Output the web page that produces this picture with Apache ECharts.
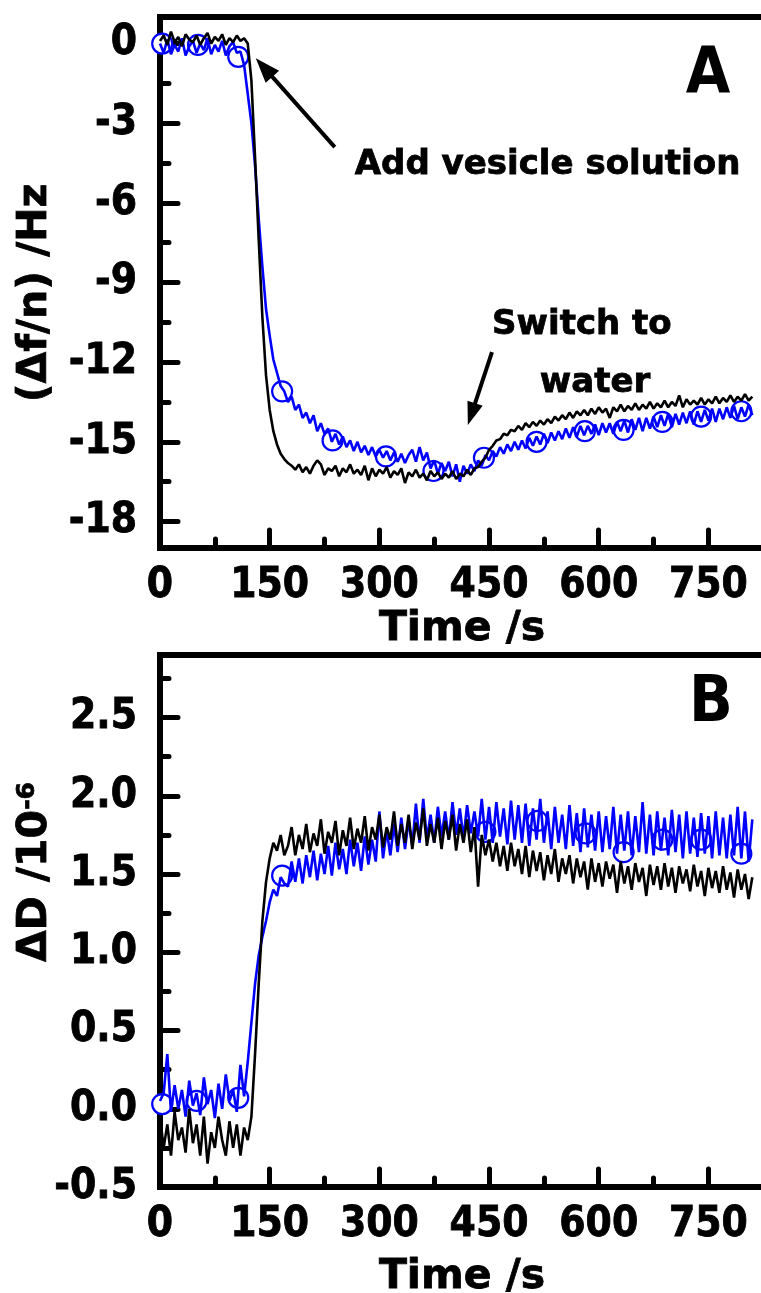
<!DOCTYPE html>
<html>
<head>
<meta charset="utf-8">
<script src="https://cdn.jsdelivr.net/npm/echarts@6/dist/echarts.min.js"></script>
<style>
  html, body { margin: 0; padding: 0; background: #fff; }
  #chart { width: 761px; height: 1293px; }
</style>
</head>
<body>
<div id="chart"></div>
<script>
// Sampling times (s), shared by all four traces
const time = [
  0, 5, 10, 15, 20, 25, 30, 35, 40, 45,
  50, 55, 60, 65, 70, 75, 80, 85, 90, 95,
  100, 105, 110, 115, 120, 125, 130, 135, 140, 145,
  150, 155, 160, 165, 170, 175, 180, 185, 190, 195,
  200, 205, 210, 215, 220, 225, 230, 235, 240, 245,
  250, 255, 260, 265, 270, 275, 280, 285, 290, 295,
  300, 305, 310, 315, 320, 325, 330, 335, 340, 345,
  350, 355, 360, 365, 370, 375, 380, 385, 390, 395,
  400, 405, 410, 415, 420, 425, 430, 435, 440, 445,
  450, 455, 460, 465, 470, 475, 480, 485, 490, 495,
  500, 505, 510, 515, 520, 525, 530, 535, 540, 545,
  550, 555, 560, 565, 570, 575, 580, 585, 590, 595,
  600, 605, 610, 615, 620, 625, 630, 635, 640, 645,
  650, 655, 660, 665, 670, 675, 680, 685, 690, 695,
  700, 705, 710, 715, 720, 725, 730, 735, 740, 745,
  750, 755, 760, 765, 770, 775, 780, 785, 790, 795,
  800, 805, 810
];

// Frequency shift (Δf/n, Hz) – black trace
const dfBlack = [
  0.10, 0.30, -0.05, 0.45, 0.05, 0.25, -0.10, 0.35, 0.15, 0.05,
  0.30, -0.05, 0.20, 0.40, 0.00, 0.25, 0.10, 0.35, -0.05, 0.20,
  0.05, 0.30, 0.10, 0.20, 0.00, -1.4, -4.3, -7.4, -10.3, -12.5,
  -13.8, -14.6, -15.1, -15.45, -15.65, -15.8, -15.9, -16.05, -15.85, -16.15,
  -15.95, -16.2, -15.9, -15.7, -15.85, -16.25, -16.0, -16.1, -15.9, -16.3,
  -16.0, -16.15, -15.85, -16.2, -16.05, -16.25, -15.9, -16.45, -16.0, -16.3,
  -16.05, -16.2, -15.95, -16.35, -16.1, -16.25, -16.0, -16.55, -16.15, -16.3,
  -16.05, -16.35, -16.2, -16.45, -16.1, -16.3, -16.15, -16.4, -16.2, -16.35,
  -16.1, -16.4, -16.2, -16.3, -16.05, -16.25, -16.0, -15.95, -15.75, -15.6,
  -15.3, -15.15, -14.95, -14.9, -14.7, -14.75, -14.55, -14.6, -14.4, -14.55,
  -14.3, -14.45, -14.25, -14.4, -14.2, -14.35, -14.15, -14.3, -14.05, -14.2,
  -14.0, -14.15, -13.9, -14.1, -13.85, -14.0, -13.8, -14.0, -13.75, -13.95,
  -13.7, -13.9, -13.75, -14.1, -13.7, -13.85, -13.6, -13.85, -13.65, -13.8,
  -13.55, -13.8, -13.6, -13.75, -13.5, -13.75, -13.55, -13.7, -13.45, -13.7,
  -13.5, -13.65, -13.25, -13.7, -13.4, -13.6, -13.45, -13.6, -13.35, -13.6,
  -13.4, -13.55, -13.3, -13.55, -13.35, -13.5, -13.25, -13.5, -13.3, -13.45,
  -13.2, -13.45, -13.3
];

// Frequency shift (Δf/n, Hz) – blue trace
const dfBlue = [
  0.0, -0.35, 0.15, -0.4, -0.05, -0.3, 0.2, -0.45, -0.1, 0.1,
  -0.35, 0.0, -0.25, 0.2, -0.4, -0.05, -0.3, 0.1, -0.45, -0.1,
  0.05, -0.35, -0.3, -0.8, -1.9, -3.0, -4.6, -6.6, -8.4, -10.0,
  -11.0, -11.9, -12.4, -12.9, -13.1, -13.5, -13.3, -13.8, -13.6, -14.1,
  -13.9, -14.3, -14.0, -14.6, -14.3, -14.7, -14.5, -15.0, -14.7, -15.1,
  -14.8, -15.2, -14.95, -15.35, -15.0, -15.4, -15.15, -15.5, -15.2, -15.55,
  -15.3, -15.6, -15.35, -15.7, -15.4, -15.75, -15.45, -15.8, -15.5, -15.3,
  -15.75, -15.2, -15.7, -15.4, -16.0, -15.7, -16.2, -15.8, -16.1, -15.75,
  -16.3, -15.85, -16.5, -15.9, -16.2, -15.85, -16.1, -15.7, -15.9, -15.5,
  -15.7, -15.35, -15.55, -15.2, -15.45, -15.1, -15.35, -15.0, -15.3, -14.95,
  -15.25, -14.85, -15.15, -14.8, -15.1, -14.7, -15.05, -14.65, -14.95, -14.6,
  -14.9, -14.5, -14.85, -14.45, -14.8, -14.4, -14.75, -14.4, -14.7, -14.35,
  -14.75, -14.3, -14.65, -14.3, -14.7, -14.25, -14.6, -14.2, -14.65, -14.15,
  -14.55, -14.1, -14.6, -14.1, -14.5, -14.05, -14.45, -14.0, -14.4, -13.95,
  -14.45, -13.95, -14.35, -13.9, -14.3, -13.85, -14.35, -13.85, -14.25, -13.8,
  -14.2, -13.75, -14.25, -13.75, -14.15, -13.7, -14.1, -13.65, -14.15, -13.7,
  -14.05, -13.6, -14.0
];

// Dissipation shift (ΔD, 10^-6) – black trace
const dBlack = [
  -0.05, -0.25, -0.1, -0.3, -0.02, -0.2, -0.12, -0.28, 0.0, -0.22,
  -0.1, -0.3, -0.05, -0.35, -0.15, -0.25, -0.05, -0.2, -0.3, -0.08,
  -0.25, -0.1, -0.3, -0.12, -0.2, -0.05, 0.35, 0.8, 1.2, 1.45,
  1.6, 1.7, 1.65, 1.75, 1.62, 1.68, 1.8, 1.62, 1.75, 1.66,
  1.82, 1.64, 1.76, 1.68, 1.85, 1.63, 1.77, 1.7, 1.84, 1.62,
  1.78, 1.68, 1.86, 1.66, 1.79, 1.7, 1.87, 1.65, 1.8, 1.72,
  1.88, 1.67, 1.8, 1.72, 1.9, 1.68, 1.82, 1.7, 1.88, 1.66,
  1.83, 1.72, 1.92, 1.68, 1.82, 1.7, 1.86, 1.66, 1.84, 1.72,
  1.88, 1.65, 1.82, 1.7, 1.85, 1.64, 1.8, 1.42, 1.75, 1.62,
  1.72, 1.58, 1.7, 1.55, 1.68, 1.52, 1.7, 1.55, 1.66, 1.5,
  1.68, 1.48, 1.65, 1.52, 1.64, 1.46, 1.62, 1.5, 1.66, 1.45,
  1.6, 1.5, 1.62, 1.44, 1.6, 1.48, 1.58, 1.4, 1.6, 1.45,
  1.57, 1.42, 1.58, 1.47, 1.56, 1.38, 1.58, 1.44, 1.55, 1.4,
  1.57, 1.45, 1.54, 1.36, 1.56, 1.43, 1.55, 1.4, 1.57, 1.42,
  1.54, 1.38, 1.55, 1.44, 1.53, 1.39, 1.56, 1.42, 1.52, 1.36,
  1.54, 1.41, 1.52, 1.38, 1.55, 1.4, 1.51, 1.35, 1.53, 1.4,
  1.5, 1.34, 1.48
];

// Dissipation shift (ΔD, 10^-6) – blue trace
const dBlue = [
  0.05, 0.1, 0.35, -0.02, 0.15, 0.0, 0.12, -0.05, 0.18, 0.02,
  0.1, -0.04, 0.2, 0.03, 0.12, -0.06, 0.16, 0.0, 0.22, 0.05,
  0.12, -0.02, 0.28, 0.08, 0.3, 0.55, 0.8, 0.98, 1.1, 1.2,
  1.32, 1.4, 1.36, 1.48, 1.44, 1.42, 1.58, 1.45, 1.6, 1.44,
  1.62, 1.48, 1.65, 1.46, 1.63, 1.5, 1.68, 1.49, 1.7, 1.53,
  1.66, 1.5, 1.72, 1.55, 1.7, 1.52, 1.74, 1.56, 1.72, 1.58,
  1.9, 1.6, 1.78, 1.62, 1.82, 1.64, 1.86, 1.66, 1.84, 1.68,
  1.95, 1.7, 1.98, 1.72, 1.88, 1.7, 1.93, 1.74, 1.9, 1.72,
  1.96, 1.75, 1.92, 1.73, 1.94, 1.76, 1.9, 1.74, 1.98, 1.72,
  1.93, 1.7, 1.96, 1.74, 1.92, 1.69, 1.97, 1.72, 1.94, 1.7,
  1.95, 1.68, 1.92, 1.72, 1.98, 1.7, 1.9, 1.66, 1.93, 1.7,
  1.88, 1.66, 1.94, 1.68, 1.89, 1.64, 1.92, 1.67, 1.88, 1.65,
  1.9, 1.64, 1.87, 1.66, 1.93, 1.63, 1.88, 1.65, 1.9, 1.62,
  1.87, 1.64, 1.96, 1.63, 1.88, 1.62, 1.9, 1.65, 1.86, 1.62,
  1.91, 1.64, 1.88, 1.6, 1.9, 1.63, 1.86, 1.61, 1.89, 1.63,
  1.87, 1.6, 1.9, 1.62, 1.86, 1.6, 1.88, 1.62, 1.93, 1.6,
  1.9, 1.58, 1.85
];

// Open-circle markers on the blue traces
const dfMarkerTime = [3, 52, 107, 167, 236, 309, 374, 443, 515, 581, 634, 687, 740, 795];
const dfMarker = [0.0, -0.05, -0.5, -13.1, -14.95, -15.55, -16.1, -15.6, -15.0, -14.6, -14.55, -14.25, -14.05, -13.85];
const dMarkerTime = [3, 50, 107, 167, 445, 516, 582, 634, 687, 740, 795];
const dMarker = [0.03, 0.05, 0.07, 1.49, 1.77, 1.84, 1.76, 1.64, 1.72, 1.72, 1.63];

// Tick values
const xMajorTicks = [0, 150, 300, 450, 600, 750];
const xMinorTicks = [75, 225, 375, 525, 675, 825];
const dfMajorTicks = [-18, -15, -12, -9, -6, -3, 0];
const dfMinorTicks = [-16.5, -13.5, -10.5, -7.5, -4.5, -1.5];
const dMajorTicks = [-0.5, 0, 0.5, 1, 1.5, 2, 2.5];
const dMinorTicks = [-0.25, 0.25, 0.75, 1.25, 1.75, 2.25, 2.75];

const tickFont = "'DejaVu Sans Condensed', 'DejaVu Sans', sans-serif";
const titleFont = "'DejaVu Sans', sans-serif";
const BLUE = '#0000ff';
const BLACK = '#000000';

const zip = (xs, ys) => xs.map((x, i) => [x, ys[i]]);

const tickLine = { color: BLACK, width: 5, cap: 'round' };
const heavyText = { textBorderColor: BLACK, textBorderWidth: 0.8 };

function xAxesFor(grid, nameGap) {
  return [
    {
      type: 'value', gridIndex: grid, position: 'bottom', min: 0, max: 826,
      axisLine: { show: true, onZero: false, lineStyle: { color: BLACK, width: 6 } },
      axisTick: { show: true, inside: true, length: 18, customValues: xMajorTicks, lineStyle: tickLine },
      axisLabel: Object.assign({ show: true, customValues: xMajorTicks, margin: 17, color: BLACK,
        fontFamily: tickFont, fontWeight: 'bold', fontSize: 42 }, heavyText),
      splitLine: { show: false },
      name: 'Time /s', nameLocation: 'middle', nameGap: nameGap,
      nameTextStyle: Object.assign({ color: BLACK, fontFamily: titleFont, fontWeight: 'bold', fontSize: 41 }, heavyText)
    },
    {
      type: 'value', gridIndex: grid, position: 'bottom', min: 0, max: 826,
      axisLine: { show: false, onZero: false },
      axisTick: { show: true, inside: true, length: 9, customValues: xMinorTicks, lineStyle: tickLine },
      axisLabel: { show: false },
      splitLine: { show: false }
    }
  ];
}

function yAxesFor(grid, min, max, major, minor, fmt) {
  return [
    {
      type: 'value', gridIndex: grid, position: 'left', min: min, max: max,
      axisLine: { show: true, onZero: false, lineStyle: { color: BLACK, width: 6 } },
      axisTick: { show: true, inside: true, length: 18, customValues: major, lineStyle: tickLine },
      axisLabel: Object.assign({ show: true, customValues: major, margin: 23, color: BLACK,
        fontFamily: tickFont, fontWeight: 'bold', fontSize: 42, formatter: fmt }, heavyText),
      splitLine: { show: false }
    },
    {
      type: 'value', gridIndex: grid, position: 'left', min: min, max: max,
      axisLine: { show: false, onZero: false },
      axisTick: { show: true, inside: true, length: 9, customValues: minor, lineStyle: tickLine },
      axisLabel: { show: false },
      splitLine: { show: false }
    }
  ];
}

const gridBase = { left: 160, width: 604, show: true, borderColor: BLACK, borderWidth: 6,
  backgroundColor: 'transparent', containLabel: false, outerBoundsMode: 'none' };

const lineSeries = (name, x, y, data, color) => ({
  name, type: 'line', xAxisIndex: x, yAxisIndex: y, data,
  showSymbol: false, symbol: 'none', sampling: 'none',
  lineStyle: { color, width: 2.6 }, clip: true
});
const markerSeries = (name, x, y, data) => ({
  name, type: 'scatter', xAxisIndex: x, yAxisIndex: y, data,
  symbol: 'circle', symbolSize: 20,
  itemStyle: { color: '#ffffff', borderColor: BLUE, borderWidth: 2.2, opacity: 1 }
});

const chart = echarts.init(document.getElementById('chart'));
chart.setOption({
  animation: false,
  backgroundColor: '#ffffff',
  grid: [
    Object.assign({ top: 17, height: 531 }, gridBase),
    Object.assign({ top: 655, height: 532 }, gridBase)
  ],
  xAxis: [...xAxesFor(0, 60), ...xAxesFor(1, 70)],
  yAxis: [
    ...yAxesFor(0, -19, 1, dfMajorTicks, dfMinorTicks, v => String(v)),
    ...yAxesFor(1, -0.5, 2.9, dMajorTicks, dMinorTicks, v => Number(v).toFixed(1))
  ],
  series: [
    lineSeries('Δf blue', 0, 0, zip(time, dfBlue), BLUE),
    lineSeries('Δf black', 0, 0, zip(time, dfBlack), BLACK),
    markerSeries('Δf markers', 0, 0, zip(dfMarkerTime, dfMarker)),
    lineSeries('ΔD blue', 2, 2, zip(time, dBlue), BLUE),
    markerSeries('ΔD markers', 2, 2, zip(dMarkerTime, dMarker)),
    lineSeries('ΔD black', 2, 2, zip(time, dBlack), BLACK)
  ]
});

// Annotations for panel A, given in data coordinates (time, Δf/n)
const toPx = pt => chart.convertToPixel({ xAxisIndex: 0, yAxisIndex: 0 }, pt);

function arrow(from, to, head, halfW, width) {
  const a = toPx(from), b = toPx(to);
  const dx = b[0] - a[0], dy = b[1] - a[1];
  const len = Math.hypot(dx, dy), ux = dx / len, uy = dy / len;
  const bx = b[0] - ux * head, by = b[1] - uy * head;
  return [
    { type: 'line', shape: { x1: a[0], y1: a[1], x2: bx + ux * 3, y2: by + uy * 3 },
      style: { stroke: BLACK, lineWidth: width }, z: 100 },
    { type: 'polygon', shape: { points: [[b[0], b[1]], [bx - uy * halfW, by + ux * halfW], [bx + uy * halfW, by - ux * halfW]] },
      style: { fill: BLACK }, z: 100 }
  ];
}

const heavyStroke = { stroke: BLACK, lineWidth: 0.8 };

function note(text, at, size) {
  const p = toPx(at);
  return { type: 'text', x: p[0], y: p[1], z: 100,
    style: Object.assign({ text, fill: BLACK, fontFamily: titleFont, fontWeight: 'bold', fontSize: size,
      align: 'center', verticalAlign: 'middle' }, heavyStroke) };
}

chart.setOption({
  graphic: [
    ...arrow([239, -3.9], [131, -0.55], 25, 9, 4),
    ...arrow([454, -11.62], [421, -14.37], 23, 8, 4),
    note('Add vesicle solution', [530, -4.57], 34),
    note('Switch to', [577, -10.6], 34),
    note('water', [595, -12.8], 34),
    { type: 'text', x: 708, y: 76, z: 100,
      style: { text: 'A', fill: BLACK, fontFamily: tickFont, fontWeight: 'bold', fontSize: 64,
        align: 'center', verticalAlign: 'middle' } },
    { type: 'text', x: 711, y: 704, z: 100,
      style: { text: 'B', fill: BLACK, fontFamily: tickFont, fontWeight: 'bold', fontSize: 64,
        align: 'center', verticalAlign: 'middle' } },
    { type: 'text', x: 35, y: 293, rotation: Math.PI / 2, z: 100,
      style: Object.assign({ text: '(Δf/n) /Hz', fill: BLACK, fontFamily: titleFont, fontWeight: 'bold', fontSize: 41,
        align: 'center', verticalAlign: 'middle' }, heavyStroke) },
    { type: 'text', x: 35, y: 872, rotation: Math.PI / 2, z: 100,
      style: { text: '{m|ΔD /10}{s|-6}', align: 'center', verticalAlign: 'middle',
        rich: {
          m: Object.assign({ fill: BLACK, fontFamily: titleFont, fontWeight: 'bold', fontSize: 41, verticalAlign: 'bottom' }, heavyStroke),
          s: Object.assign({ fill: BLACK, fontFamily: titleFont, fontWeight: 'bold', fontSize: 25, verticalAlign: 'top' }, heavyStroke)
        } } }
  ]
});
</script>
</body>
</html>
